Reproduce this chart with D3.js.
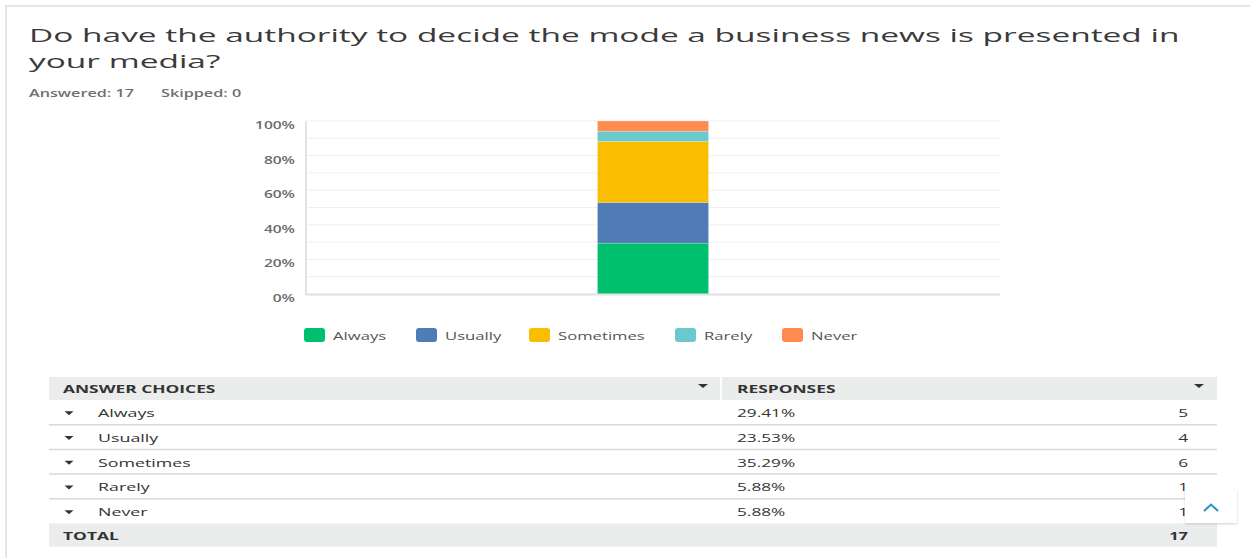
<!DOCTYPE html>
<html>
<head>
<meta charset="utf-8">
<script src="https://cdn.jsdelivr.net/npm/d3@7"></script>
<style>
  html, body { margin: 0; padding: 0; background: #fff; }
  svg { display: block; font-family: "Open Sans", "DejaVu Sans", sans-serif; }
</style>
</head>
<body>
<svg id="chart" width="1250" height="558"></svg>
<script>
// Survey question and summary
const questionLines = ["Do have the authority to decide the mode a business news is presented in", "your media?"];
const answeredText = "Answered: 17";
const skippedText = "Skipped: 0";

// Answer choices with response shares and counts
const choices = ["Always", "Usually", "Sometimes", "Rarely", "Never"];
const percents = [29.41, 23.53, 35.29, 5.88, 5.88];
const counts = [5, 4, 6, 1, 1];
const colors = ["#00bf6f", "#507cb6", "#f9be00", "#6bc8cd", "#ff8b4f"];
const totalCount = 17;

// Axis ticks
const yTicks = [0, 20, 40, 60, 80, 100];
const yGrid = [10, 20, 30, 40, 50, 60, 70, 80, 90, 100];

const svg = d3.select("#chart");

// Text in this report is drawn wide; stretch glyphs horizontally around their anchor
const SX = 1.45;
function label(g, x, y, str, opts = {}) {
  const t = g.append("text")
    .attr("transform", `translate(${x},${y}) scale(${opts.sx || SX},1)`)
    .attr("font-size", opts.size || 12)
    .attr("font-weight", opts.weight || 400)
    .attr("fill", opts.fill || "#333")
    .attr("text-anchor", opts.anchor || "start")
    .text(str);
  return t;
}

// Card outline
svg.append("rect").attr("x", 6).attr("y", 6).attr("width", 1250).attr("height", 560)
  .attr("fill", "#fff").attr("stroke", "#e6e6e6").attr("stroke-width", 2);
svg.append("rect").attr("x", 0).attr("y", 0).attr("width", 1250).attr("height", 5).attr("fill", "#fff");

// Title
questionLines.forEach((line, i) => {
  label(svg, 29, 42 + i * 26, line, { size: 19, weight: 400, fill: "#3a3a3a", sx: 1.76 });
});
label(svg, 29, 97, answeredText, { size: 10, weight: 600, fill: "#6f6f6f", sx: 1.62 });
label(svg, 161, 97, skippedText, { size: 10, weight: 600, fill: "#6f6f6f", sx: 1.62 });

// Plot area
const plot = { left: 306, right: 1000, top: 121, bottom: 294 };
const y = d3.scaleLinear().domain([0, 100]).range([plot.bottom, plot.top]);
const x = d3.scaleBand().domain(["Q"]).range([plot.left, plot.right]).paddingInner(0).paddingOuter(2.625);

const gPlot = svg.append("g");
gPlot.selectAll("line.grid").data(yGrid).join("line")
  .attr("class", "grid")
  .attr("x1", plot.left).attr("x2", plot.right)
  .attr("y1", d => y(d)).attr("y2", d => y(d))
  .attr("stroke", "#efefef").attr("stroke-width", 1);

// Stacked segments
let acc = 0;
const stack = percents.map((p, i) => { const s = { y0: acc, y1: acc + p, c: colors[i] }; acc += p; return s; });
gPlot.selectAll("rect.seg").data(stack).join("rect")
  .attr("class", "seg")
  .attr("x", x("Q")).attr("width", x.bandwidth())
  .attr("y", d => y(d.y1)).attr("height", d => y(d.y0) - y(d.y1))
  .attr("fill", d => d.c)
  .attr("stroke", "#ffffff").attr("stroke-opacity", 0.35).attr("stroke-width", 0.6);

// Axis lines
gPlot.append("line").attr("x1", plot.left).attr("x2", plot.left).attr("y1", plot.top).attr("y2", plot.bottom + 1)
  .attr("stroke", "#e3e3e3").attr("stroke-width", 2);
gPlot.append("line").attr("x1", plot.left).attr("x2", plot.right).attr("y1", plot.bottom + 0.5).attr("y2", plot.bottom + 0.5)
  .attr("stroke", "#e0e0e0").attr("stroke-width", 2);

// Y tick labels
yTicks.forEach(t => {
  label(gPlot, 295, y(t) + 8, t + "%", { size: 10, weight: 600, fill: "#6b6b6b", anchor: "end", sx: 1.55 });
});

// Legend
const legendX = [304, 416, 529, 675, 782];
const gLeg = svg.append("g");
choices.forEach((c, i) => {
  gLeg.append("rect").attr("x", legendX[i]).attr("y", 328).attr("width", 21).attr("height", 14)
    .attr("rx", 3).attr("fill", colors[i]);
  label(gLeg, legendX[i] + 29, 340, c, { size: 11.5, fill: "#555", sx: 1.45 });
});

// Response table
const tbl = { left: 49, right: 1217, split: 721, headTop: 377, headBottom: 400, rowH: 24.7 };
const gT = svg.append("g");
gT.append("rect").attr("x", tbl.left).attr("y", tbl.headTop).attr("width", tbl.right - tbl.left).attr("height", tbl.headBottom - tbl.headTop).attr("fill", "#ebecec");
gT.append("rect").attr("x", tbl.split - 1).attr("y", tbl.headTop).attr("width", 2).attr("height", tbl.headBottom - tbl.headTop).attr("fill", "#fff");

function tri(g, cx, cy, w, h) {
  g.append("path").attr("d", `M${cx - w / 2},${cy - h / 2}L${cx + w / 2},${cy - h / 2}L${cx},${cy + h / 2}Z`).attr("fill", "#333");
}
label(gT, 63, 393, "ANSWER CHOICES", { size: 11, weight: 700, fill: "#333", sx: 1.58 });
label(gT, 737, 393, "RESPONSES", { size: 11, weight: 700, fill: "#333", sx: 1.58 });
tri(gT, 703, 386, 10, 4);
tri(gT, 1199, 386, 10, 4);

const rowY = i => tbl.headBottom + i * tbl.rowH;
choices.forEach((c, i) => {
  const top = rowY(i);
  const mid = top + tbl.rowH / 2;
  if (i < choices.length - 1) {
    gT.append("line").attr("x1", tbl.left).attr("x2", tbl.right).attr("y1", top + tbl.rowH).attr("y2", top + tbl.rowH)
      .attr("stroke", "#d9d9d9").attr("stroke-width", 1.5);
  }
  tri(gT, 69, mid + 1, 9, 4);
  label(gT, 98, mid + 5, c, { size: 11.5, fill: "#333", sx: 1.55 });
  label(gT, 737, mid + 5, percents[i].toFixed(2) + "%", { size: 11.5, fill: "#333", sx: 1.5 });
  label(gT, 1188, mid + 5, counts[i], { size: 11.5, fill: "#333", anchor: "end", sx: 1.5 });
});
const totTop = rowY(choices.length);
gT.append("rect").attr("x", tbl.left).attr("y", totTop).attr("width", tbl.right - tbl.left).attr("height", 23).attr("fill", "#ebecec");
label(gT, 63, totTop + 16, "TOTAL", { size: 11, weight: 700, fill: "#333", sx: 1.58 });
label(gT, 1188, totTop + 16, totalCount, { size: 11, weight: 700, fill: "#333", anchor: "end", sx: 1.5 });

// Back-to-top button
const defs = svg.append("defs");
const f = defs.append("filter").attr("id", "sh").attr("x", "-20%").attr("y", "-20%").attr("width", "140%").attr("height", "150%");
f.append("feDropShadow").attr("dx", 0).attr("dy", 1).attr("stdDeviation", 1.2).attr("flood-color", "#000").attr("flood-opacity", 0.18);
svg.append("rect").attr("x", 1185).attr("y", 490).attr("width", 52).attr("height", 33).attr("fill", "#fff").attr("filter", "url(#sh)");
svg.append("path").attr("d", "M1204,511L1211,504.5L1218,511").attr("fill", "none").attr("stroke", "#2a8fc1").attr("stroke-width", 2);
</script>
</body>
</html>
